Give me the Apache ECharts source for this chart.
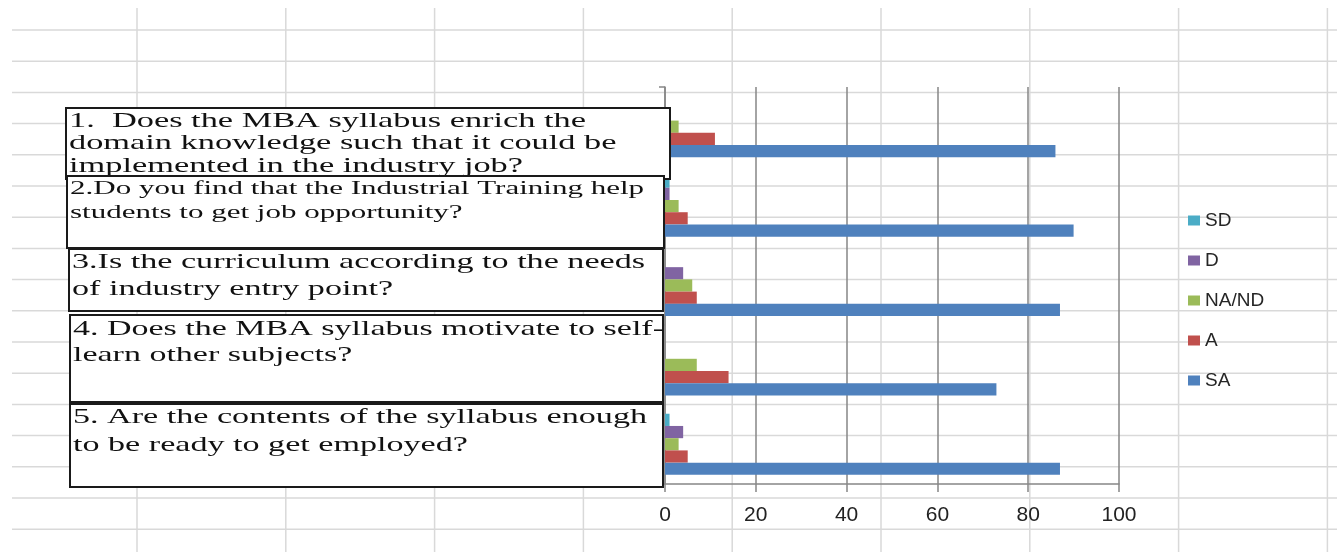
<!DOCTYPE html>
<html>
<head>
<meta charset="utf-8">
<script src="https://cdn.jsdelivr.net/npm/echarts@6/dist/echarts.min.js"></script>
<style>
html,body{margin:0;padding:0;background:#fff;}
#chart{width:1337px;height:552px;}
</style>
</head>
<body>
<div id="chart"></div>
<script>
// ---- data ----
var questionLines = [
  ['1.  Does the MBA syllabus enrich the', 'domain knowledge such that it could be', 'implemented in the industry job?'],
  ['2.Do you find that the Industrial Training help', 'students to get job opportunity?'],
  ['3.Is the curriculum according to the needs', 'of industry entry point?'],
  ['4. Does the MBA syllabus motivate to self-', 'learn other subjects?'],
  ['5. Are the contents of the syllabus enough', 'to be ready to get employed?']
];
var categories = questionLines.map(function (l) { return l.join(' '); });
var seriesNames = ['SD', 'D', 'NA/ND', 'A', 'SA'];
var sdValues = [0, 1, 0, 0, 1];
var dValues  = [0, 1, 4, 0, 4];
var naValues = [3, 3, 6, 7, 3];
var aValues  = [11, 5, 7, 14, 5];
var saValues = [86, 90, 87, 73, 87];
var xTicks = [0, 20, 40, 60, 80, 100];

// ---- styles / layout ----
var seriesColors = ['#4BACC6', '#8064A2', '#9BBB59', '#C0504D', '#4F81BD'];
var seriesValues = [sdValues, dValues, naValues, aValues, saValues];

var boxes = [
  {x: 66, y: 108, w: 604, h: 71, fs: 21, lh: 22.5, ty: 121, target: 517},
  {x: 67, y: 176, w: 597, h: 72, fs: 19, lh: 24, ty: 189, target: 574},
  {x: 69, y: 249, w: 594, h: 62, fs: 22, lh: 27, ty: 262, target: 573},
  {x: 70, y: 315, w: 593, h: 87, fs: 22, lh: 26, ty: 329, target: 591},
  {x: 70, y: 404, w: 593, h: 83, fs: 22, lh: 28, ty: 417, target: 574}
];

var measureCtx = document.createElement('canvas').getContext('2d');
function measure(txt, fs) {
  measureCtx.font = fs + 'px "Liberation Serif"';
  return measureCtx.measureText(txt).width;
}

var graphics = [];
// spreadsheet background grid
for (var r = 0; r < 17; r++) {
  var yy = 30 + r * 31.2;
  graphics.push({type: 'line', z: -10, silent: true,
    shape: {x1: 12, y1: yy, x2: 1337, y2: yy},
    style: {stroke: '#d9d9d9', lineWidth: 1.5}});
}
for (var c = 0; c < 9; c++) {
  var xx = 137 + c * 148.8;
  graphics.push({type: 'line', z: -10, silent: true,
    shape: {x1: xx, y1: 8, x2: xx, y2: 552},
    style: {stroke: '#d9d9d9', lineWidth: 1.5}});
}
// question boxes
boxes.forEach(function (b, i) {
  graphics.push({type: 'rect', z: 100 + i * 2, silent: true,
    shape: {x: b.x, y: b.y, width: b.w, height: b.h},
    style: {fill: '#fff', stroke: '#1a1a1a', lineWidth: 2}});
  var sx = b.target / measure(questionLines[i][0], b.fs);
  questionLines[i].forEach(function (line, k) {
    graphics.push({type: 'text', z: 101 + i * 2, silent: true,
      x: b.x + 3, y: b.ty + k * b.lh, scaleX: sx, originX: 0, originY: 0,
      style: {text: line, x: 0, y: 0, font: b.fs + 'px "Liberation Serif"',
        fill: '#111', verticalAlign: 'middle', align: 'left'}});
  });
});

var chart = echarts.init(document.getElementById('chart'), null, {renderer: 'canvas'});
var axisGray = '#868686';
chart.setOption({
  animation: false,
  backgroundColor: '#fff',
  grid: {left: 665, right: 218, top: 87, bottom: 68, containLabel: false, outerBoundsMode: 'none'},
  legend: {
    orient: 'vertical', left: 1188, top: 211, padding: 0,
    itemWidth: 12, itemHeight: 10, itemGap: 21,
    icon: 'rect',
    data: seriesNames,
    textStyle: {fontFamily: 'Liberation Sans', fontSize: 19, color: '#262626'}
  },
  xAxis: {
    type: 'value', min: 0, max: 100, interval: 20,
    axisLine: {show: true, lineStyle: {color: axisGray, width: 1.5}},
    axisTick: {show: true, length: 8, lineStyle: {color: axisGray, width: 1.5}},
    splitLine: {show: true, lineStyle: {color: axisGray, width: 1.5}},
    axisLabel: {margin: 21, fontFamily: 'Liberation Sans', fontSize: 21, color: '#222'}
  },
  yAxis: {
    type: 'category', inverse: true, data: categories,
    axisLine: {show: true, lineStyle: {color: axisGray, width: 1.5}},
    axisTick: {show: true, length: 6, lineStyle: {color: axisGray, width: 1.5}},
    axisLabel: {show: false},
    splitLine: {show: false}
  },
  series: seriesNames.map(function (n, i) {
    return {
      name: n, type: 'bar', data: seriesValues[i],
      itemStyle: {color: seriesColors[i]},
      barGap: '0%', barCategoryGap: '23%'
    };
  }),
  graphic: graphics
});
</script>
</body>
</html>
